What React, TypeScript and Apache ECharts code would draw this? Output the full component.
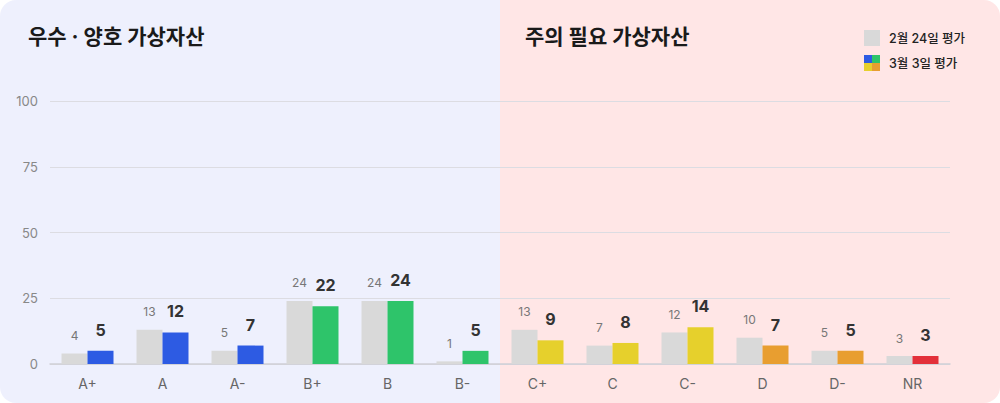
import React, { useEffect, useRef } from "react";
import * as echarts from "echarts";

const categories = ["A+", "A", "A-", "B+", "B", "B-", "C+", "C", "C-", "D", "D-", "NR"];
const feb24Values = [4, 13, 5, 24, 24, 1, 13, 7, 12, 10, 5, 3];
const mar3Values = [5, 12, 7, 22, 24, 5, 9, 8, 14, 7, 5, 3];
const mar3Colors = [
  "#2D5BE3", "#2D5BE3", "#2D5BE3",
  "#2EC46A", "#2EC46A", "#2EC46A",
  "#E6D02C", "#E6D02C", "#E6D02C",
  "#E89E30", "#E89E30",
  "#E3303A",
];
const yTicks = [0, 25, 50, 75, 100];
const legendNames = ["2월 24일 평가", "3월 3일 평가"];
const panelTitles = ["우수 · 양호 가상자산", "주의 필요 가상자산"];

const FONT = "Inter, 'Noto Sans CJK KR', sans-serif";

export default function App() {
  const ref = useRef<HTMLDivElement>(null);
  useEffect(() => {
    document.body.style.margin = "0";
    const chart = echarts.init(ref.current!, null, { renderer: "svg" });
    chart.setOption({
      animation: false,
      textStyle: { fontFamily: FONT },
      grid: { left: 50, right: 50, top: 101, bottom: 39 },
      xAxis: {
        type: "category",
        data: categories,
        axisTick: { show: false },
        axisLine: { lineStyle: { color: "#CFCFD6", width: 1.5 } },
        axisLabel: { color: "#666", fontSize: 14, margin: 12, fontFamily: FONT },
      },
      yAxis: {
        type: "value",
        min: 0,
        max: yTicks[yTicks.length - 1],
        interval: 25,
        axisLabel: { color: "#888", fontSize: 13, margin: 12, fontFamily: FONT },
        splitLine: { lineStyle: { color: "#DCDCE2" } },
        axisLine: { show: false },
        axisTick: { show: false },
      },
      series: [
        {
          name: legendNames[0],
          type: "bar",
          data: feb24Values,
          barWidth: 26,
          barGap: "0%",
          itemStyle: { color: "#D9D9D9" },
          label: {
            show: true,
            position: "top",
            distance: 12,
            color: "#777",
            fontSize: 12,
            fontFamily: FONT,
          },
        },
        {
          name: legendNames[1],
          type: "bar",
          data: mar3Values.map((v, i) => ({ value: v, itemStyle: { color: mar3Colors[i] } })),
          barWidth: 26,
          barGap: "0%",
          label: {
            show: true,
            position: "top",
            distance: 13,
            color: "#333",
            fontSize: 16,
            fontWeight: "bold",
            fontFamily: FONT,
          },
        },
      ],
      graphic: [
        {
          type: "text",
          left: 28,
          top: 26,
          style: { text: panelTitles[0], fontSize: 21, fontWeight: "bold", fill: "#1a1a1a", fontFamily: FONT },
        },
        {
          type: "text",
          left: 525,
          top: 26,
          style: { text: panelTitles[1], fontSize: 21, fontWeight: "bold", fill: "#1a1a1a", fontFamily: FONT },
        },
        { type: "rect", shape: { x: 864, y: 30, width: 16, height: 16 }, style: { fill: "#D9D9D9" } },
        {
          type: "text",
          x: 889,
          y: 38,
          style: { text: legendNames[0], fontSize: 12.5, fontWeight: 500, fill: "#222", verticalAlign: "middle", fontFamily: FONT },
        },
        { type: "rect", shape: { x: 864, y: 55, width: 8, height: 8 }, style: { fill: "#2D5BE3" } },
        { type: "rect", shape: { x: 872, y: 55, width: 8, height: 8 }, style: { fill: "#2EC46A" } },
        { type: "rect", shape: { x: 864, y: 63, width: 8, height: 8 }, style: { fill: "#E6D02C" } },
        { type: "rect", shape: { x: 872, y: 63, width: 8, height: 8 }, style: { fill: "#E89E30" } },
        {
          type: "text",
          x: 889,
          y: 63,
          style: { text: legendNames[1], fontSize: 12.5, fontWeight: 500, fill: "#222", verticalAlign: "middle", fontFamily: FONT },
        },
      ],
    });
    return () => chart.dispose();
  }, []);
  return (
    <div
      style={{
        width: 1000,
        height: 403,
        borderRadius: 16,
        overflow: "hidden",
        background: "linear-gradient(to right, #EEF0FD 0%, #EEF0FD 50%, #FFE6E6 50%, #FFE6E6 100%)",
      }}
    >
      <div ref={ref} style={{ width: 1000, height: 403 }} />
    </div>
  );
}
